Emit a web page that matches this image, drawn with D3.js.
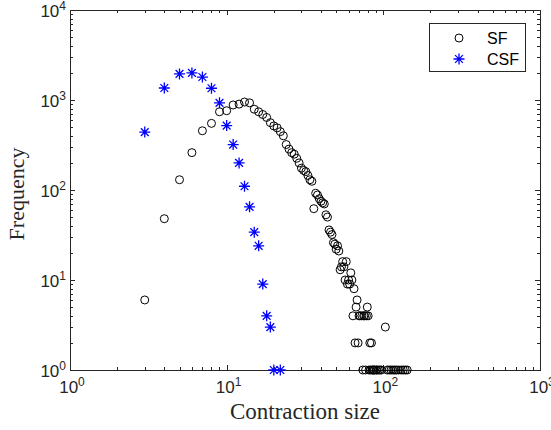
<!DOCTYPE html>
<html>
<head>
<meta charset="utf-8">
<script src="https://cdn.jsdelivr.net/npm/d3@7"></script>
<style>
  body { margin: 0; background: #fff; }
  svg { display: block; }
</style>
</head>
<body>
<div id="chart"></div>
<script>
// contraction sizes and counts
var sfSize = [3, 4, 5, 6, 7, 8, 9, 10, 11, 12, 13, 14, 15, 16, 17, 18, 19, 20,
  21, 22, 23, 24, 25, 26, 27, 28, 29, 30, 31, 32, 33, 34, 35, 36, 37, 38, 39, 40,
  41, 42, 43, 44, 45, 46, 47, 48, 49, 50, 51, 52, 53, 54, 55, 56, 57, 58, 59, 60,
  61, 62, 63, 64, 65, 66, 67, 68, 69, 70, 71, 73, 74, 75, 76, 77, 78, 79, 80,
  81, 82, 83, 84, 85, 86, 87, 88, 90, 91, 93, 95, 97, 103,
  106, 109, 112, 115, 118, 121, 125, 130, 134, 138, 142];
var sfFreq = [6, 48, 130, 260, 455, 550, 740, 760, 880, 900, 950, 930, 790, 740, 690, 640, 560, 515,
  490, 445, 400, 320, 285, 260, 250, 225, 200, 175, 165, 160, 145, 130, 125, 62, 92, 88, 80, 75,
  72, 70, 53, 50, 36, 34, 32, 26, 25, 22, 24, 21, 13, 14, 16, 14, 10, 16, 9, 10,
  9, 12, 10, 4, 8, 2, 5, 6, 2, 4, 4, 4, 1, 4, 4, 1, 4, 5, 4,
  1, 2, 1, 2, 1, 1, 1, 1, 1, 1, 1, 1, 1, 3,
  1, 1, 1, 1, 1, 1, 1, 1, 1, 1, 1];

var csfSize = [3, 4, 5, 6, 7, 8, 9, 10, 11, 12, 13, 14, 15, 16, 17, 18, 19, 20, 22];
var csfFreq = [440, 1360, 1950, 2000, 1800, 1350, 930, 520, 320, 200, 110, 65, 34, 24, 9, 4, 3, 1, 1];

var xTicks = [1, 10, 100, 1000];
var yTicks = [1, 10, 100, 1000, 10000];
var seriesNames = ["SF", "CSF"];

var W = 551, H = 430;
var pLeft = 70, pRight = 540, pTop = 10, pBottom = 370;
var axisColor = "#262626";

var svg = d3.select("#chart").append("svg")
    .attr("width", W)
    .attr("height", H);

var x = d3.scaleLog().domain([1, 1000]).range([pLeft, pRight]);
var y = d3.scaleLog().domain([1, 10000]).range([pBottom, pTop]);

// minor ticks 2..9 in each decade
function minors(domain) {
  var out = [];
  for (var d = domain[0]; d < domain[1]; d *= 10) {
    for (var k = 2; k <= 9; k++) out.push(d * k);
  }
  return out;
}

var tickG = svg.append("g").attr("stroke", axisColor).attr("stroke-width", 1);

minors(x.domain()).forEach(function(v) {
  var px = Math.round(x(v)) + 0.5;
  tickG.append("line").attr("x1", px).attr("x2", px).attr("y1", pBottom).attr("y2", pBottom - 3);
  tickG.append("line").attr("x1", px).attr("x2", px).attr("y1", pTop).attr("y2", pTop + 3);
});
xTicks.forEach(function(v) {
  var px = Math.round(x(v)) + 0.5;
  tickG.append("line").attr("x1", px).attr("x2", px).attr("y1", pBottom).attr("y2", pBottom - 5);
  tickG.append("line").attr("x1", px).attr("x2", px).attr("y1", pTop).attr("y2", pTop + 5);
});
minors(y.domain()).forEach(function(v) {
  var py = Math.round(y(v)) + 0.5;
  tickG.append("line").attr("x1", pLeft).attr("x2", pLeft + 3).attr("y1", py).attr("y2", py);
  tickG.append("line").attr("x1", pRight).attr("x2", pRight - 3).attr("y1", py).attr("y2", py);
});
yTicks.forEach(function(v) {
  var py = Math.round(y(v)) + 0.5;
  tickG.append("line").attr("x1", pLeft).attr("x2", pLeft + 5).attr("y1", py).attr("y2", py);
  tickG.append("line").attr("x1", pRight).attr("x2", pRight - 5).attr("y1", py).attr("y2", py);
});

svg.append("rect")
    .attr("x", pLeft + 0.5).attr("y", pTop + 0.5)
    .attr("width", pRight - pLeft).attr("height", pBottom - pTop)
    .attr("fill", "none")
    .attr("stroke", axisColor);

function powLabel(g, v) {
  var e = Math.round(Math.log10(v));
  g.append("tspan").text("10");
  g.append("tspan").attr("dy", -7).attr("font-size", 12).text(e);
}

xTicks.forEach(function(v) {
  var t = svg.append("text")
      .attr("x", x(v) + 2).attr("y", pBottom + 23)
      .attr("text-anchor", "middle")
      .attr("font-family", "Liberation Sans, Arial, sans-serif")
      .attr("font-size", 17)
      .attr("fill", axisColor);
  powLabel(t, v);
});
yTicks.forEach(function(v) {
  var t = svg.append("text")
      .attr("x", pLeft - 4).attr("y", y(v) + 7)
      .attr("text-anchor", "end")
      .attr("font-family", "Liberation Sans, Arial, sans-serif")
      .attr("font-size", 17)
      .attr("fill", axisColor);
  powLabel(t, v);
});

svg.append("text")
    .attr("x", (pLeft + pRight) / 2).attr("y", 419)
    .attr("text-anchor", "middle")
    .attr("font-family", "Liberation Serif, Times New Roman, serif")
    .attr("font-size", 23)
    .attr("fill", axisColor)
    .text("Contraction size");

svg.append("text")
    .attr("transform", "translate(24,194) rotate(-90)")
    .attr("text-anchor", "middle")
    .attr("font-family", "Liberation Serif, Times New Roman, serif")
    .attr("font-size", 22)
    .attr("fill", axisColor)
    .text("Frequency");

// star marker like matlab '*'
var starPath = (function(r) {
  var d = r * Math.SQRT1_2;
  return "M" + (-r) + ",0L" + r + ",0M0," + (-r) + "L0," + r +
    "M" + (-d) + "," + (-d) + "L" + d + "," + d +
    "M" + (-d) + "," + d + "L" + d + "," + (-d);
})(5.5);

var sfData = sfSize.map(function(s, i) { return [s, sfFreq[i]]; });
var csfData = csfSize.map(function(s, i) { return [s, csfFreq[i]]; });

svg.append("g").selectAll("circle")
    .data(sfData)
    .enter().append("circle")
    .attr("cx", function(d) { return x(d[0]); })
    .attr("cy", function(d) { return y(d[1]); })
    .attr("r", 4)
    .attr("fill", "none")
    .attr("stroke", "#000")
    .attr("stroke-width", 1);

svg.append("g").selectAll("path")
    .data(csfData)
    .enter().append("path")
    .attr("transform", function(d) { return "translate(" + x(d[0]) + "," + y(d[1]) + ")"; })
    .attr("d", starPath)
    .attr("stroke", "#0000ff")
    .attr("stroke-width", 1.3)
    .attr("fill", "none");

// legend
var lg = svg.append("g");
lg.append("rect")
    .attr("x", 429.5).attr("y", 23.5)
    .attr("width", 96).attr("height", 48)
    .attr("fill", "#fff")
    .attr("stroke", axisColor);
lg.append("circle")
    .attr("cx", 459).attr("cy", 38).attr("r", 4)
    .attr("fill", "none").attr("stroke", "#000");
lg.append("path")
    .attr("transform", "translate(459,59)")
    .attr("d", starPath)
    .attr("stroke", "#0000ff").attr("stroke-width", 1.3).attr("fill", "none");
seriesNames.forEach(function(n, i) {
  lg.append("text")
      .attr("x", 487).attr("y", 44 + i * 21)
      .attr("font-family", "Liberation Sans, Arial, sans-serif")
      .attr("font-size", 16)
      .attr("fill", "#000")
      .text(n);
});
</script>
</body>
</html>
